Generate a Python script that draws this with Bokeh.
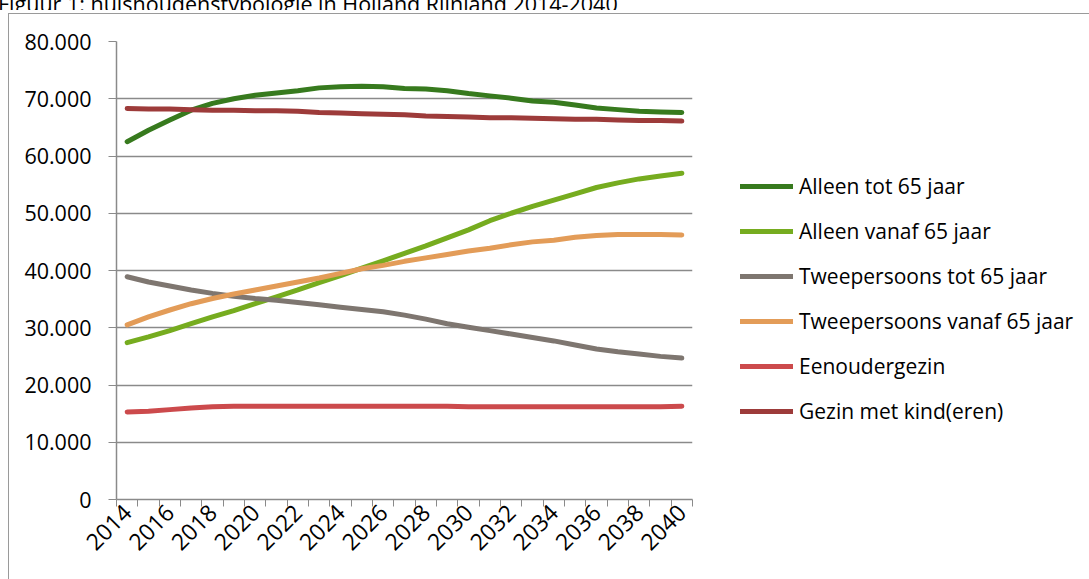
from bokeh.plotting import figure
from bokeh.layouts import column
from bokeh.models import (Range1d, FixedTicker, CustomJSTickFormatter, Legend, LegendItem,
                          ColumnDataSource, Div)
from bokeh.embed import file_html
from bokeh.resources import INLINE
import math

years = list(range(2014, 2041))
tick_years = list(range(2014, 2041, 2))
y_ticks = list(range(0, 80001, 10000))

alleen_tot_65 = [62500, 64500, 66300, 68000, 69200, 70000, 70600, 71000, 71400, 71900, 72100, 72200, 72100,
                 71800, 71700, 71400, 70900, 70500, 70100, 69600, 69400, 68900, 68400, 68100, 67800, 67700, 67600]
alleen_vanaf_65 = [27400, 28400, 29500, 30700, 31900, 33000, 34200, 35400, 36600, 37900, 39100, 40400, 41700,
                   43000, 44300, 45700, 47100, 48700, 50000, 51200, 52300, 53400, 54500, 55300, 56000, 56500, 57000]
twee_tot_65 = [38900, 38000, 37300, 36600, 36000, 35500, 35100, 34800, 34400, 34000, 33600, 33200, 32800,
               32200, 31500, 30700, 30100, 29500, 28900, 28300, 27700, 27000, 26300, 25800, 25400, 25000, 24700]
twee_vanaf_65 = [30500, 31900, 33100, 34200, 35100, 35900, 36600, 37300, 38000, 38700, 39500, 40300, 40900,
                 41600, 42200, 42800, 43400, 43900, 44500, 45000, 45300, 45800, 46100, 46300, 46300, 46300, 46200]
eenoudergezin = [15300, 15400, 15700, 16000, 16200, 16300, 16300, 16300, 16300, 16300, 16300, 16300, 16300,
                 16300, 16300, 16300, 16200, 16200, 16200, 16200, 16200, 16200, 16200, 16200, 16200, 16200, 16300]
gezin_kind = [68300, 68200, 68200, 68100, 68000, 68000, 67900, 67900, 67800, 67600, 67500, 67400, 67300,
              67200, 67000, 66900, 66800, 66700, 66700, 66600, 66500, 66400, 66400, 66300, 66200, 66200, 66100]

series_names = ["Alleen tot 65 jaar", "Alleen vanaf 65 jaar", "Tweepersoons tot 65 jaar",
                "Tweepersoons vanaf 65 jaar", "Eenoudergezin", "Gezin met kind(eren)"]
series_values = [alleen_tot_65, alleen_vanaf_65, twee_tot_65, twee_vanaf_65, eenoudergezin, gezin_kind]
series_colors = ["#377A1E", "#76AC1F", "#7E7670", "#E39C58", "#CC4A4C", "#9D3B3A"]

title_text = "Figuur 1: huishoudenstypologie in Holland Rijnland 2014-2040"
FONT = "Open Sans"
GRID = "#8A8A8A"

TITLE_H = 10

p = figure(frame_width=576, frame_height=458,
           min_border_left=116, min_border_right=397, min_border_top=41 - TITLE_H, min_border_bottom=80,
           x_range=Range1d(2013.5, 2040.5), y_range=Range1d(0, 80000),
           output_backend="svg", toolbar_location=None, margin=0,
           styles={"background-color": "#ffffff",
                   "background-image": "linear-gradient(#9A9A9A,#9A9A9A), linear-gradient(#9A9A9A,#9A9A9A)",
                   "background-position": "8px 3px, 8px 3px",
                   "background-size": "1px 600px, 1200px 1px",
                   "background-repeat": "no-repeat, no-repeat"})
p.outline_line_color = None
p.background_fill_color = "white"
p.border_fill_color = None

# axes
p.xaxis.ticker = FixedTicker(ticks=tick_years, minor_ticks=[y - 0.5 for y in years] + [years[-1] + 0.5])
p.xaxis.major_tick_line_color = None
p.xaxis.major_tick_out = 7
p.xaxis.major_tick_in = 0
p.xaxis.minor_tick_out = 7
p.xaxis.minor_tick_in = 0
p.xaxis.minor_tick_line_color = GRID
p.xaxis.minor_tick_line_width = 1
p.xaxis.axis_line_color = GRID
p.xaxis.axis_line_width = 1.5
p.xaxis.major_label_orientation = math.pi / 4
p.xaxis.major_label_standoff = 2
p.xaxis.major_label_text_font = FONT
p.xaxis.major_label_text_font_size = "23px"
p.xaxis.major_label_text_color = "black"

p.yaxis.ticker = FixedTicker(ticks=y_ticks)
p.yaxis.formatter = CustomJSTickFormatter(code="""
    if (tick == 0) { return '0'; }
    return (tick / 1000).toFixed(0) + '.000';
""")
p.yaxis.major_tick_out = 8
p.yaxis.major_tick_in = 0
p.yaxis.minor_tick_line_color = None
p.yaxis.major_tick_line_color = GRID
p.yaxis.axis_line_color = GRID
p.yaxis.axis_line_width = 1.5
p.yaxis.major_label_standoff = 17
p.yaxis.major_label_text_font = FONT
p.yaxis.major_label_text_font_size = "21.5px"
p.yaxis.major_label_text_color = "black"

p.xgrid.grid_line_color = None
p.ygrid.ticker = FixedTicker(ticks=y_ticks)
p.ygrid.grid_line_color = GRID
p.ygrid.grid_line_width = 1.5

items = []
for name, vals, col in zip(series_names, series_values, series_colors):
    src = ColumnDataSource(dict(x=years, y=vals))
    r = p.line("x", "y", source=src, line_color=col, line_width=5,
               line_cap="round", line_join="round")
    items.append(LegendItem(label=name, renderers=[r]))

legend = Legend(items=items, location=(48, 74),
                label_text_font=FONT, label_text_font_size="21px", label_text_color="black",
                glyph_width=53, glyph_height=20, label_height=20, label_standoff=6,
                spacing=17, padding=0, margin=0,
                border_line_color=None, background_fill_alpha=0)
p.add_layout(legend, "right")

title = Div(text='<div style="margin-top:-14px;margin-left:-2px;white-space:nowrap;'
                 'font-family:\'Open Sans\';font-size:21.5px;line-height:21px;color:black;">'
                 + title_text + '</div>',
            width=1089, height=TITLE_H, margin=0,
            styles={"overflow": "hidden", "background-color": "#ffffff"})

layout = column(title, p, spacing=0, margin=0, styles={"background-color": "#ffffff"})

open("out.html", "w").write(file_html(layout, INLINE))
